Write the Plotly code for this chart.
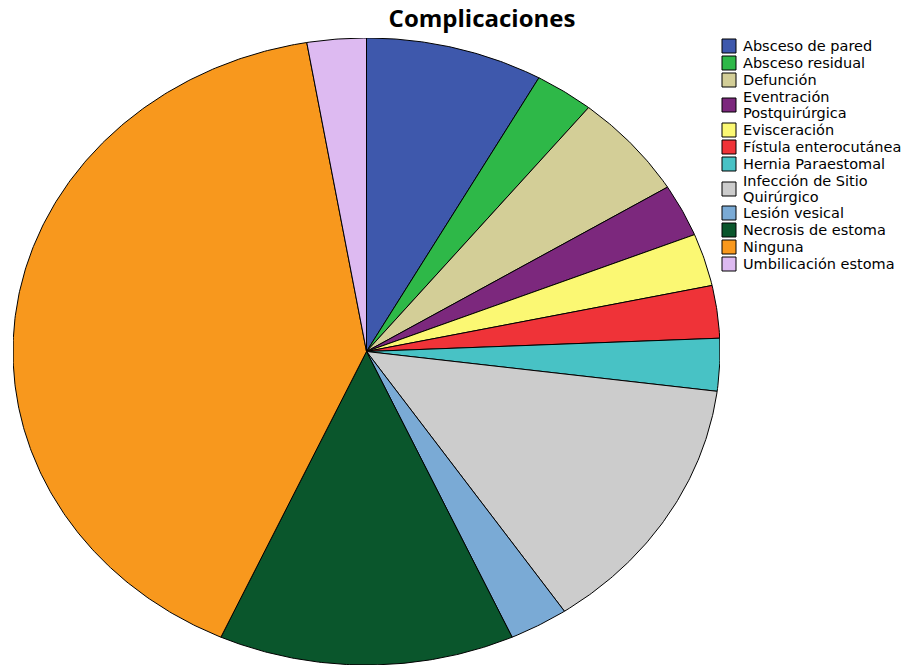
import numpy as np
import plotly.graph_objects as go

# Complications (count of patients per category)
categories = [
    "Absceso de pared",
    "Absceso residual",
    "Defunción",
    "Eventración<br>Postquirúrgica",
    "Evisceración",
    "Fístula enterocutánea",
    "Hernia Paraestomal",
    "Infección de Sitio<br>Quirúrgico",
    "Lesión vesical",
    "Necrosis de estoma",
    "Ninguna",
    "Umbilicación estoma",
]
counts = [3, 1, 2, 1, 1, 1, 1, 5, 1, 5, 15, 1]
colors = [
    "#3E58AC", "#2EB848", "#D3CE97", "#7C287D", "#FBF873", "#EF3338",
    "#48C2C5", "#CCCCCC", "#7AAAD5", "#0A562C", "#F8981D", "#DDBAF1",
]

W, H = 917, 666
# pie placement (pixels): centre and radii of the ellipse
cx, cy, rx, ry = 366.5, 351.5, 353.5, 313.5

fig = go.Figure()

total = sum(counts)
start = 0.0
for name, val, col in zip(categories, counts, colors):
    sweep = 360.0 * val / total
    n = max(int(np.ceil(sweep)) * 2, 4)
    th = np.radians(np.linspace(start, start + sweep, n))
    xs = np.concatenate([[0.0], np.sin(th), [0.0]])
    ys = np.concatenate([[0.0], np.cos(th), [0.0]])
    fig.add_trace(go.Scatter(
        x=xs, y=ys, mode="lines", fill="toself",
        fillcolor=col, line=dict(color="black", width=1),
        name=name.replace("<br>", " "), hoverinfo="name", showlegend=False,
    ))
    start += sweep

# legend: swatches + labels (one text line per annotation)
leg_x0 = 722
text_x = 741
row_y = [46, 63, 80, 105, 130, 147, 164, 189, 213, 230, 247, 264]
line_gap = 16
sw = 14
legend_font = dict(family="DejaVu Sans", size=14.5, color="black")
for name, col, yc in zip(categories, colors, row_y):
    fig.add_shape(
        type="rect", xref="paper", yref="paper",
        x0=leg_x0 / W, x1=(leg_x0 + sw) / W,
        y0=1 - (yc + sw / 2) / H, y1=1 - (yc - sw / 2) / H,
        fillcolor=col, line=dict(color="black", width=1),
    )
    lines = name.split("<br>")
    first = yc - line_gap * (len(lines) - 1) / 2
    for i, txt in enumerate(lines):
        fig.add_annotation(
            x=text_x / W, y=1 - (first + i * line_gap) / H,
            xref="paper", yref="paper",
            text=txt, showarrow=False, xanchor="left", yanchor="middle",
            align="left", font=legend_font,
        )

fig.update_layout(
    width=W, height=H,
    margin=dict(l=0, r=0, t=0, b=0),
    paper_bgcolor="white", plot_bgcolor="white",
    title=dict(
        text="<b>Complicaciones</b>", x=482 / W, xanchor="center",
        y=1 - 19 / H, yanchor="middle", yref="container",
        font=dict(family="Open Sans", size=24, color="black"),
    ),
    xaxis=dict(range=[-1, 1], domain=[(cx - rx) / W, (cx + rx) / W],
               visible=False, fixedrange=True),
    yaxis=dict(range=[-1, 1],
               domain=[(H - cy - ry) / H, (H - cy + ry) / H],
               visible=False, fixedrange=True),
    showlegend=False,
)

fig.write_html("out.html")
